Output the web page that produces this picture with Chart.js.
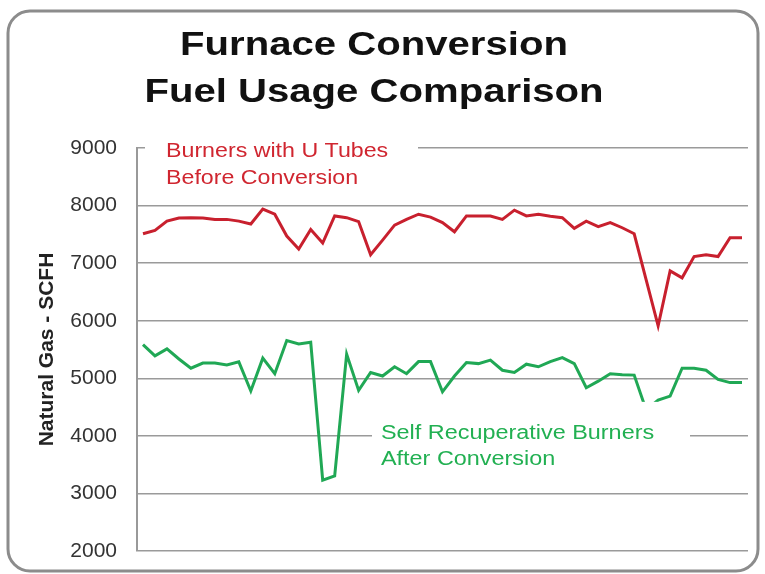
<!DOCTYPE html>
<html>
<head>
<meta charset="utf-8">
<title>Furnace Conversion Fuel Usage Comparison</title>
<script src="https://cdn.jsdelivr.net/npm/chart.js@4/dist/chart.umd.min.js"></script>
<style>
  html, body { margin: 0; padding: 0; background: #fff; }
  #chart { display: block; }
</style>
</head>
<body>
<canvas id="chart" width="765" height="574"></canvas>
<script>
// one reading per sample, 51 samples
const samples = [
  1, 2, 3, 4, 5, 6, 7, 8, 9, 10, 11, 12, 13, 14, 15, 16, 17,
  18, 19, 20, 21, 22, 23, 24, 25, 26, 27, 28, 29, 30, 31, 32, 33, 34,
  35, 36, 37, 38, 39, 40, 41, 42, 43, 44, 45, 46, 47, 48, 49, 50, 51
];

const beforeConversion = [
  7510, 7570, 7730, 7785, 7790, 7785, 7760, 7760, 7730, 7680, 7940, 7850, 7470, 7245, 7585, 7350, 7820,
  7790, 7720, 7145, 7400, 7660, 7760, 7850, 7800, 7705, 7545, 7820, 7820, 7820, 7760, 7920, 7820, 7850,
  7815, 7790, 7605, 7730, 7635, 7705, 7615, 7510, 6710, 5910, 6865, 6745, 7115, 7145, 7115, 7440, 7440
];

const afterConversion = [
  5585, 5390, 5510, 5335, 5175, 5265, 5265, 5230, 5285, 4780, 5350, 5080, 5655, 5595, 5625, 3230, 3305,
  5420, 4790, 5100, 5040, 5200, 5080, 5290, 5290, 4765, 5040, 5275, 5255, 5315, 5140, 5100, 5245, 5200,
  5290, 5360, 5255, 4835, 4950, 5080, 5060, 5055, 4450, 4620, 4690, 5175, 5175, 5140, 4980, 4925, 4925
];

const yMin = 2000;
const yMax = 9000;
const yStep = 1000;

const titleLines = ['Furnace Conversion', 'Fuel Usage Comparison'];
const beforeLabel = ['Burners with U Tubes', 'Before Conversion'];
const afterLabel = ['Self Recuperative Burners', 'After Conversion'];
const yAxisTitle = 'Natural Gas - SCFH';

const FONT = "'Liberation Sans', Arial, sans-serif";
const RED = '#c8202e';
const GREEN = '#20a855';

// the source picture is a little wider than tall, so text gets a horizontal stretch
function drawStretched(ctx, text, x, y, align, stretch) {
  ctx.save();
  ctx.translate(x, y);
  ctx.scale(stretch, 1);
  ctx.textAlign = align;
  ctx.textBaseline = 'alphabetic';
  ctx.fillText(text, 0, 0);
  ctx.restore();
}

const frame = {
  id: 'frame',
  beforeDraw(chart) {
    const ctx = chart.ctx;
    ctx.save();
    ctx.fillStyle = '#fff';
    ctx.fillRect(0, 0, chart.width, chart.height);
    ctx.strokeStyle = '#8c8c8c';
    ctx.lineWidth = 3;
    ctx.beginPath();
    ctx.roundRect(8, 11, 750, 560, 22);
    ctx.stroke();

    ctx.fillStyle = '#111';
    ctx.font = 'bold 34px ' + FONT;
    drawStretched(ctx, titleLines[0], 374, 55, 'center', 1.18);
    drawStretched(ctx, titleLines[1], 374, 102, 'center', 1.18);
    ctx.restore();
  }
};

// series labels sit in white boxes that cut the gridlines (and the green dip)
const notes = {
  id: 'notes',
  afterDatasetsDraw(chart) {
    const ctx = chart.ctx;
    const area = chart.chartArea;
    const y = chart.scales.y;
    const top = y.getPixelForValue(9000);
    const low = y.getPixelForValue(4000);

    ctx.save();
    ctx.fillStyle = '#fff';
    ctx.fillRect(area.left + 8, top - 15, 273, 58);
    ctx.fillRect(area.left + 235, low - 34, 318, 70);

    ctx.font = '20px ' + FONT;
    ctx.fillStyle = '#d02630';
    drawStretched(ctx, beforeLabel[0], area.left + 29, top + 9, 'left', 1.16);
    drawStretched(ctx, beforeLabel[1], area.left + 29, top + 36, 'left', 1.16);

    ctx.fillStyle = '#22b052';
    drawStretched(ctx, afterLabel[0], area.left + 244, low + 3, 'left', 1.17);
    drawStretched(ctx, afterLabel[1], area.left + 244, low + 29, 'left', 1.17);
    ctx.restore();
  }
};

const ctx = document.getElementById('chart').getContext('2d');
const chart = new Chart(ctx, {
  type: 'line',
  data: {
    labels: samples,
    datasets: [
      { label: beforeLabel.join(' '), data: beforeConversion, borderColor: RED, borderWidth: 3, pointRadius: 0, fill: false, tension: 0 },
      { label: afterLabel.join(' '), data: afterConversion, borderColor: GREEN, borderWidth: 3, pointRadius: 0, fill: false, tension: 0 }
    ]
  },
  options: {
    responsive: false,
    animation: false,
    devicePixelRatio: 1,
    layout: { padding: { left: 0, right: 17, top: 148, bottom: 23 } },
    plugins: {
      legend: { display: false },
      title: { display: false },
      tooltip: { enabled: false }
    },
    scales: {
      x: {
        type: 'category',
        display: false,
        offset: true
      },
      y: {
        min: yMin,
        max: yMax,
        ticks: {
          stepSize: yStep,
          padding: 20,
          color: '#333',
          font: { family: FONT, size: 21 },
          callback: (value) => String(value)
        },
        grid: { color: '#9a9a9a', lineWidth: 1.5, drawTicks: false },
        border: { display: true, color: '#999', width: 2 },
        title: {
          display: true,
          text: yAxisTitle,
          color: '#222',
          font: { family: FONT, size: 21, weight: 'bold' },
          padding: { top: 35, bottom: 0 }
        },
        afterFit(scale) {
          scale.width = 137;
          // layout padding already leaves room for the end labels
          scale.paddingTop = 0;
          scale.paddingBottom = 0;
        }
      }
    }
  },
  plugins: [frame, notes]
});
</script>
</body>
</html>
